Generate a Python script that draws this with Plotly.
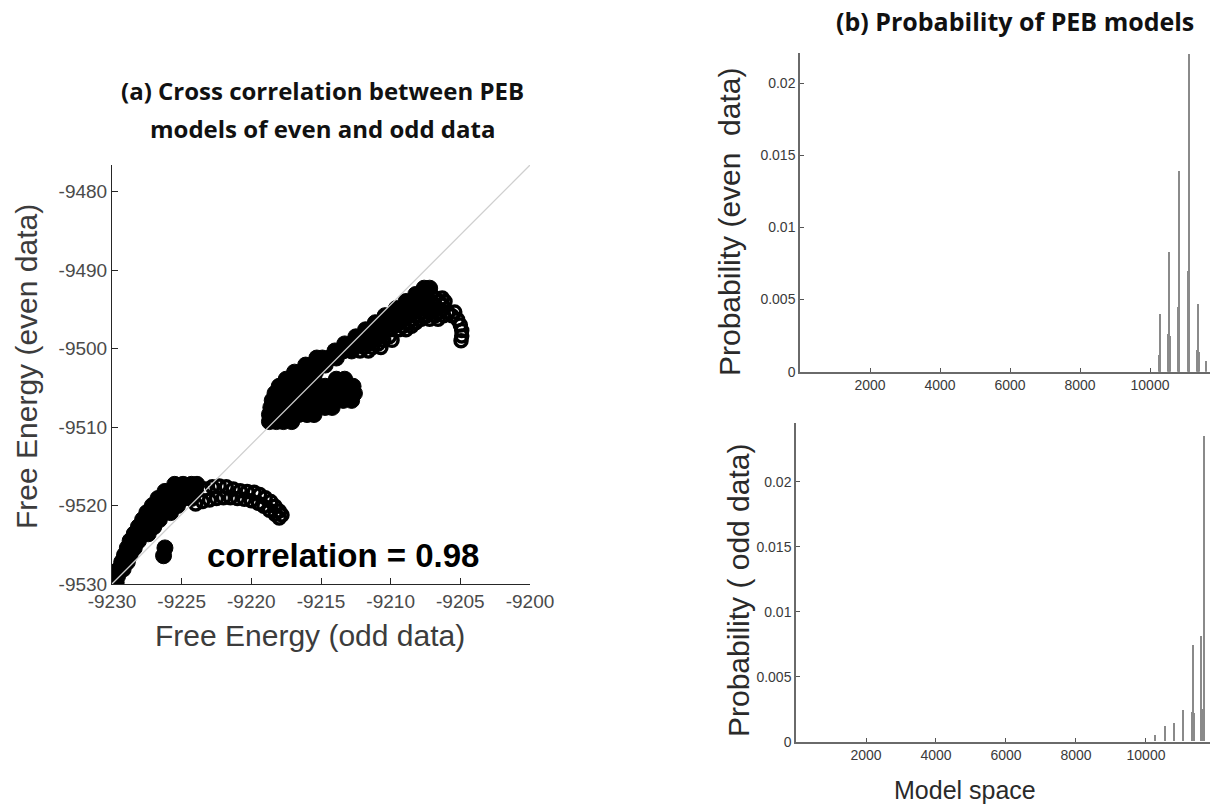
import plotly.graph_objects as go

W, H = 1210, 807

# ---------------- (a) scatter data: free energies (odd data -> x, even data -> y)
# dense (overlapping) regions
dense_x = [
    # lower cluster, main blob
    -9225.5, -9224.9, -9224.3, -9223.9,
    -9226.2, -9225.6, -9225.0, -9224.4, -9224.0,
    -9226.7, -9226.1, -9225.5, -9224.9, -9224.3,
    -9227.1, -9226.5, -9225.9, -9225.3,
    -9227.5, -9226.9, -9226.3, -9225.8,
    -9227.8, -9227.2, -9226.6,
    -9228.1, -9227.5, -9227.0,
    -9228.4, -9227.8, -9227.4,
    -9228.7, -9228.1,
    -9228.9, -9228.4,
    -9229.1, -9228.7,
    -9229.3, -9228.9,
    -9229.5, -9229.2,
    -9229.6, -9229.7,
    # isolated small group
    -9226.2, -9226.3,
    # upper cluster, left blob
    -9218.7, -9218.2, -9217.7, -9217.1,
    -9218.7, -9218.2, -9217.7, -9217.2, -9216.6, -9216.0, -9215.5,
    -9218.6, -9218.1, -9217.6, -9217.1, -9216.5, -9215.9, -9215.3, -9214.7, -9214.2,
    -9218.5, -9218.0, -9217.5, -9217.0, -9216.4, -9215.8, -9215.2, -9214.6, -9214.0, -9213.4, -9212.8,
    -9218.3, -9217.8, -9217.3, -9216.8, -9216.2, -9215.6, -9215.0, -9214.4, -9213.8, -9213.2, -9212.6,
    -9218.0, -9217.5, -9217.0, -9216.5, -9215.9, -9215.3, -9214.7, -9213.9, -9213.3, -9212.7,
    -9217.5, -9217.0, -9216.5, -9216.0, -9215.5, -9213.9, -9213.3,
    -9216.9, -9216.4, -9215.9, -9215.4,
    -9216.1, -9215.6, -9215.1, -9214.7,
    -9215.3, -9214.9, -9214.4, -9213.9,
    # upper cluster, rising band
    -9214.0, -9213.4, -9212.8,
    -9213.3, -9212.7, -9212.1,
    -9212.5, -9211.9, -9211.3,
    -9211.8, -9211.2, -9210.6,
    -9211.1, -9210.5, -9209.9,
    -9210.4, -9209.8, -9209.2,
    -9209.6, -9209.0, -9208.4,
    -9208.9, -9208.3, -9207.7,
    -9208.2, -9207.6,
    -9207.6, -9207.2,
]
dense_y = [
    -9517.3, -9517.3, -9517.3, -9517.3,
    -9518.2, -9518.2, -9518.2, -9518.2, -9518.2,
    -9519.1, -9519.1, -9519.1, -9519.1, -9519.1,
    -9520.0, -9520.0, -9520.0, -9520.0,
    -9520.9, -9520.9, -9520.9, -9520.9,
    -9521.8, -9521.8, -9521.8,
    -9522.7, -9522.7, -9522.7,
    -9523.6, -9523.6, -9523.6,
    -9524.5, -9524.5,
    -9525.4, -9525.4,
    -9526.3, -9526.3,
    -9527.2, -9527.2,
    -9528.1, -9528.1,
    -9529.0, -9529.8,
    -9525.4, -9526.4,
    -9509.3, -9509.3, -9509.3, -9509.3,
    -9508.4, -9508.4, -9508.4, -9508.4, -9508.4, -9508.4, -9508.4,
    -9507.5, -9507.5, -9507.5, -9507.5, -9507.5, -9507.5, -9507.5, -9507.5, -9507.5,
    -9506.6, -9506.6, -9506.6, -9506.6, -9506.6, -9506.6, -9506.6, -9506.6, -9506.6, -9506.6, -9506.6,
    -9505.7, -9505.7, -9505.7, -9505.7, -9505.7, -9505.7, -9505.7, -9505.7, -9505.7, -9505.7, -9505.7,
    -9504.8, -9504.8, -9504.8, -9504.8, -9504.8, -9504.8, -9504.8, -9504.8, -9504.8, -9504.8,
    -9503.9, -9503.9, -9503.9, -9503.9, -9503.9, -9503.9, -9503.9,
    -9503.0, -9503.0, -9503.0, -9503.0,
    -9502.1, -9502.1, -9502.1, -9502.1,
    -9501.2, -9501.2, -9501.2, -9501.2,
    -9500.3, -9500.3, -9500.3,
    -9499.4, -9499.4, -9499.4,
    -9498.5, -9498.5, -9498.5,
    -9497.6, -9497.6, -9497.6,
    -9496.7, -9496.7, -9496.7,
    -9495.8, -9495.8, -9495.8,
    -9494.9, -9494.9, -9494.9,
    -9494.0, -9494.0, -9494.0,
    -9493.1, -9493.1,
    -9492.3, -9492.3,
]

# sparser regions where the individual circles are visible
open_x = [
    # lower cluster arch, upper row
    -9223.3, -9222.8, -9222.3, -9221.8, -9221.3, -9220.8, -9220.3, -9219.8,
    -9219.4, -9219.0, -9218.6, -9218.3, -9218.0, -9217.8,
    # lower cluster arch, lower row
    -9224.0, -9223.5, -9223.0, -9222.5, -9222.0, -9221.5, -9221.0, -9220.5,
    -9220.0, -9219.5, -9219.1, -9218.7, -9218.3, -9218.0,
    # upper cluster, right side of band and tails
    -9212.2, -9211.6,
    -9211.5, -9210.9,
    -9210.7, -9210.1,
    -9210.0, -9209.4, -9208.9,
    -9209.3, -9208.7, -9208.2,
    -9208.6, -9208.0, -9207.4, -9206.8, -9206.2, -9205.6,
    -9207.8, -9207.2, -9206.6,
    -9207.1, -9206.5, -9206.1,
    -9207.1,
    -9211.9, -9211.3, -9210.7,
    -9211.1, -9210.5, -9209.9,
    -9210.3, -9209.7, -9209.1, -9208.5,
    -9209.6, -9209.0, -9208.4, -9207.8, -9207.2, -9206.6,
    -9208.3, -9207.7, -9207.1, -9206.5, -9205.9, -9205.4,
    -9207.5, -9206.9, -9206.3,
    -9207.4, -9206.8, -9206.3,
    -9205.2, -9205.0, -9204.9, -9204.9, -9204.95,
]
open_y = [
    -9517.9, -9517.6, -9517.5, -9517.6, -9517.9, -9518.1, -9518.2, -9518.3,
    -9518.6, -9519.0, -9519.5, -9520.1, -9520.7, -9521.2,
    -9519.8, -9519.5, -9519.3, -9519.1, -9519.0, -9519.0, -9519.1, -9519.2,
    -9519.4, -9519.7, -9520.1, -9520.6, -9521.1, -9521.6,
    -9500.3, -9500.3,
    -9499.4, -9499.4,
    -9498.5, -9498.5,
    -9497.6, -9497.6, -9497.6,
    -9496.7, -9496.7, -9496.7,
    -9495.8, -9495.8, -9495.8, -9495.8, -9495.8, -9495.8,
    -9494.9, -9494.9, -9494.9,
    -9494.0, -9494.0, -9494.0,
    -9493.1,
    -9499.85, -9499.85, -9499.85,
    -9498.95, -9498.95, -9498.95,
    -9497.15, -9497.15, -9497.15, -9497.15,
    -9496.25, -9496.25, -9496.25, -9496.25, -9496.25, -9496.25,
    -9495.35, -9495.35, -9495.35, -9495.35, -9495.35, -9495.35,
    -9494.45, -9494.45, -9494.45,
    -9493.55, -9493.55, -9493.55,
    -9496.3, -9497.0, -9497.7, -9498.4, -9499.0,
]

# identity / reference line end points (corner to corner of the axes)
ref_x = [-9230, -9200]
ref_y = [-9530, -9476.6]

x_ticks_a = [-9230, -9225, -9220, -9215, -9210, -9205, -9200]
y_ticks_a = [-9530, -9520, -9510, -9500, -9490, -9480]

# ---------------- (b) model probabilities
even_models = [10266, 10286, 10306, 10531, 10551, 10571, 10809, 10829, 10849,
               11094, 11114, 11134, 11360, 11380, 11400, 11620]
even_prob = [0.0012, 0.0040, 0.0012, 0.0026, 0.0083, 0.0025, 0.0045, 0.0139, 0.0044,
             0.0070, 0.0220, 0.0068, 0.0015, 0.0047, 0.0014, 0.00076]

odd_models = [10257, 10543, 10809, 11066, 11331, 11351, 11371, 11591, 11611, 11657]
odd_prob = [0.0005, 0.00115, 0.0014, 0.0024, 0.0023, 0.0074, 0.0022, 0.0081, 0.0025, 0.0235]

x_ticks_b = [2000, 4000, 6000, 8000, 10000]
y_ticks_b = [0, 0.005, 0.01, 0.015, 0.02]
y_ticktext_b = ["0", "0.005", "0.01", "0.015", "0.02"]


def px_x(p):
    return p / W


def px_y(p):
    return 1 - p / H


fig = go.Figure()

fig.add_trace(go.Scatter(
    x=dense_x, y=dense_y, mode="markers", xaxis="x", yaxis="y",
    marker=dict(symbol="circle", size=16, color="#000000",
                line=dict(color="#000000", width=1)),
    showlegend=False, hoverinfo="skip"))
fig.add_trace(go.Scatter(
    x=open_x, y=open_y, mode="markers", xaxis="x", yaxis="y",
    marker=dict(symbol="circle-open", size=12, color="#000000",
                line=dict(color="#000000", width=3.5)),
    showlegend=False, hoverinfo="skip"))
fig.add_trace(go.Scatter(
    x=ref_x, y=ref_y, mode="lines", xaxis="x", yaxis="y",
    line=dict(color="#cfcfcf", width=1.3),
    showlegend=False, hoverinfo="skip"))

fig.add_trace(go.Bar(
    x=even_models, y=even_prob, xaxis="x2", yaxis="y2", width=42,
    marker=dict(color="#8a8a8a", line=dict(width=0)),
    showlegend=False, hoverinfo="skip"))
fig.add_trace(go.Bar(
    x=odd_models, y=odd_prob, xaxis="x3", yaxis="y3", width=42,
    marker=dict(color="#8a8a8a", line=dict(width=0)),
    showlegend=False, hoverinfo="skip"))

tick_font_a = dict(family="Liberation Sans, Arial", size=19, color="#4a4a4a")
tick_font_b = dict(family="Liberation Sans, Arial", size=14, color="#3a3a3a")

common_a = dict(ticks="inside", ticklen=6, tickcolor="#262626",
                showline=True, linecolor="#262626", linewidth=1,
                showgrid=False, zeroline=False, tickfont=tick_font_a,
                automargin=False, fixedrange=True)
common_b = dict(ticks="inside", ticklen=4, tickcolor="#555555",
                showline=True, linecolor="#6a6a6a", linewidth=1.5,
                showgrid=False, zeroline=False, tickfont=tick_font_b,
                automargin=False, fixedrange=True)

fig.update_layout(
    width=W, height=H, autosize=False,
    margin=dict(l=0, r=0, t=0, b=0, autoexpand=False),
    paper_bgcolor="white", plot_bgcolor="white",
    bargap=0, barmode="overlay", hovermode=False,
    xaxis=dict(domain=[px_x(112), px_x(530)], range=[-9230, -9200],
               tickvals=x_ticks_a, ticktext=[str(v) for v in x_ticks_a],
               anchor="y", **common_a),
    yaxis=dict(domain=[px_y(584), px_y(165)], range=[-9530, -9476.6],
               tickvals=y_ticks_a, ticktext=[str(v) for v in y_ticks_a],
               anchor="x", **common_a),
    xaxis2=dict(domain=[px_x(800), 1.0], range=[0, 11714],
                tickvals=x_ticks_b, ticktext=[str(v) for v in x_ticks_b],
                anchor="y2", **common_b),
    yaxis2=dict(domain=[px_y(371.7), px_y(52.7)], range=[0, 0.0221],
                tickvals=y_ticks_b, ticktext=y_ticktext_b,
                anchor="x2", **common_b),
    xaxis3=dict(domain=[px_x(796), 1.0], range=[0, 11829],
                tickvals=x_ticks_b, ticktext=[str(v) for v in x_ticks_b],
                anchor="y3", **common_b),
    yaxis3=dict(domain=[px_y(741.7), px_y(423.3)], range=[0, 0.0245],
                tickvals=y_ticks_b, ticktext=y_ticktext_b,
                anchor="x3", **common_b),
)

title_font_a = dict(family="Open Sans, sans-serif", size=24, color="#111111")
title_font_b = dict(family="Open Sans, sans-serif", size=25, color="#111111")
axis_title_font = dict(family="Liberation Sans, Arial", size=30, color="#3c3c3c")
axis_title_font_b = dict(family="Liberation Sans, Arial", size=30, color="#2a2a2a")


def note(text, x, y, font, angle=0):
    fig.add_annotation(text=text, x=px_x(x), y=px_y(y), xref="paper", yref="paper",
                       xanchor="center", yanchor="middle", showarrow=False,
                       font=font, textangle=angle)


note("<b>(a) Cross correlation between PEB</b>", 322, 91, title_font_a)
note("<b>models of even and odd data</b>", 322, 128, title_font_a)
note("<b>(b) Probability of PEB models</b>", 1015, 21, title_font_b)
note("Free Energy (even data)", 27, 367, axis_title_font, -90)
note("Free Energy (odd data)", 310, 635, axis_title_font)
note("<b>correlation = 0.98</b>", 343, 555,
     dict(family="Liberation Sans, Arial", size=33, color="#000000"))
note("Probability (even\u00a0 data)", 729, 222, axis_title_font_b, -90)
note("Probability ( odd data)", 738, 590, axis_title_font_b, -90)
note("Model space", 965, 790, dict(family="Liberation Sans, Arial", size=25, color="#2a2a2a"))

fig.write_html(
    "out.html",
    config={"displayModeBar": False},
    post_script="document.body.style.margin='0px';document.body.style.overflow='hidden';",
)
